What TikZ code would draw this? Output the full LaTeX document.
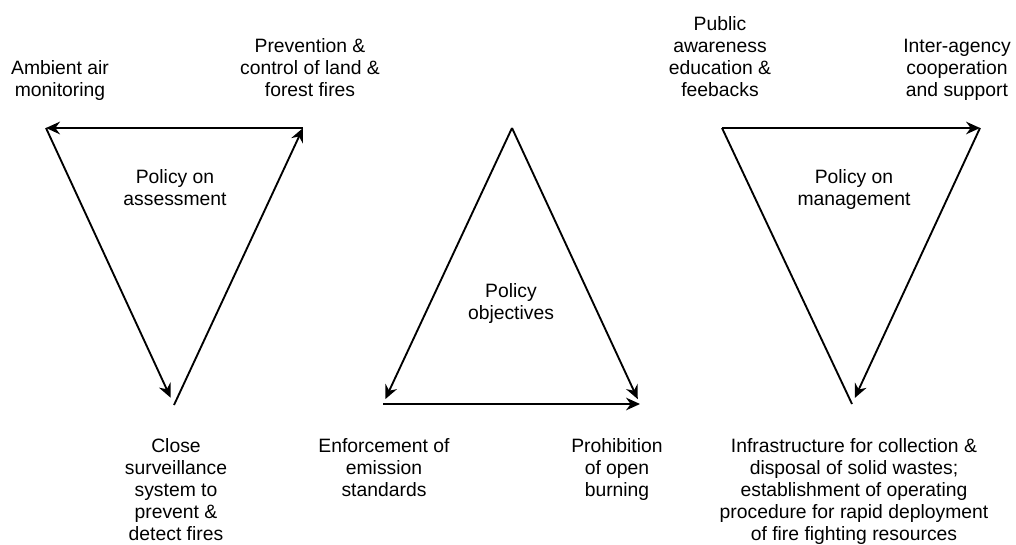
\documentclass[tikz,border=0pt]{standalone}
\usepackage{fontspec}
\setmainfont{Liberation Sans}
\usetikzlibrary{arrows.meta}
\begin{document}
\begin{tikzpicture}[x=0.75pt,y=-0.75pt,
  lbl/.style={align=center, inner sep=0pt, anchor=base, font=\fontsize{14.5}{16.5}\selectfont},
  edge/.style={line width=1.4pt, line join=miter},
  arr/.style={edge, -{Stealth[length=10.5pt,width=9.5pt,inset=3.5pt]}}]
\useasboundingbox (0,0) rectangle (1016,545);
% left triangle: policy on assessment
\coordinate (A1) at (46,128);
\coordinate (A2) at (303,128);
\coordinate (A3) at (174,405);
\draw[arr] (A2) -- (A1);
\draw[arr, shorten >=6pt] (A1) -- (A3);
\draw[arr] (A3) -- (A2);
% middle triangle: policy objectives
\coordinate (B1) at (512,128);
\coordinate (B2) at (383,404);
\coordinate (B3) at (640,404);
\draw[arr, shorten >=4pt] (B1) -- (B2);
\draw[arr, shorten >=4pt] (B1) -- (B3);
\draw[arr] (B2) -- (B3);
% right triangle: policy on management
\coordinate (C1) at (722,128);
\coordinate (C2) at (980,128);
\coordinate (C3) at (852,404);
\draw[arr] (C1) -- (C2);
\draw[arr, shorten >=5pt] (C2) -- (C3);
\draw[edge] (C1) -- (C3);
% labels (anchored at the baseline of their last line)
\node[lbl] (t1) at (60,97) {Ambient air\\monitoring};
\node[lbl] (t2) at (310,97) {Prevention \&\\control of land \&\\forest fires};
\node[lbl] (t3) at (175,205) {Policy on\\assessment};
\node[lbl] (t4) at (176,540) {Close\\surveillance\\system to\\prevent \&\\detect fires};
\node[lbl] (t5) at (511,319) {Policy\\objectives};
\node[lbl] (t6) at (384,496) {Enforcement of\\emission\\standards};
\node[lbl] (t7) at (617,496) {Prohibition\\of open\\burning};
\node[lbl] (t8) at (720,97) {Public\\awareness\\education \&\\feebacks};
\node[lbl] (t9) at (957,97) {Inter-agency\\cooperation\\and support};
\node[lbl] (t10) at (854,205) {Policy on\\management};
\node[lbl] (t11) at (854,540) {Infrastructure for collection \&\\disposal of solid wastes;\\establishment of operating\\procedure for rapid deployment\\of fire fighting resources};
\end{tikzpicture}
\end{document}
